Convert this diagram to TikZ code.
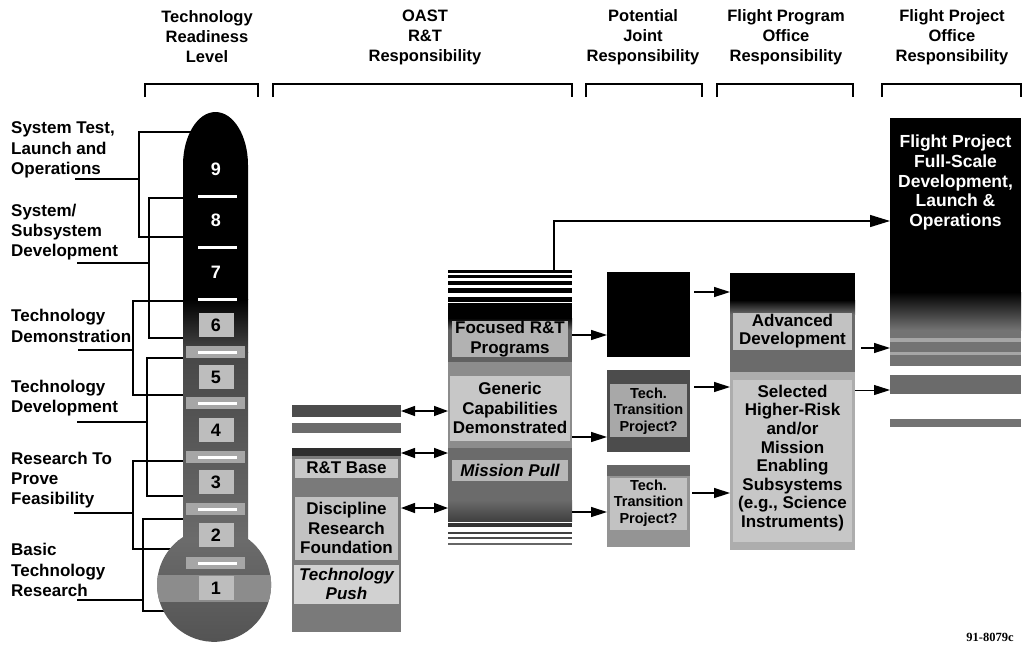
\documentclass[tikz,border=0pt]{standalone}
\usepackage{fontspec}
\setmainfont{Liberation Sans}
\newfontfamily\serifface{Liberation Serif}
\usetikzlibrary{arrows.meta,calc}
\begin{document}
\begin{tikzpicture}[x=1pt,y=-1pt,
  lab/.style={font=\fontsize{17}{20.3}\selectfont\bfseries, align=left, anchor=west, inner sep=0pt},
  hdr/.style={font=\fontsize{16.5}{20}\selectfont\bfseries, align=center, inner sep=0pt},
  btxt/.style={font=\fontsize{17}{19.5}\selectfont\bfseries, align=center, inner sep=0pt},
  ptxt/.style={font=\fontsize{17}{18.6}\selectfont\bfseries, align=center, inner sep=0pt},
  stxt/.style={font=\fontsize{14.5}{16.3}\selectfont\bfseries, align=center, inner sep=0pt},
  wtxt/.style={font=\fontsize{17.5}{19.8}\selectfont\bfseries, align=center, inner sep=0pt, text=white},
  num/.style={font=\fontsize{18}{18}\selectfont\bfseries, inner sep=0pt},
  boxn/.style={draw=none, inner sep=0pt, outer sep=0pt},
  ln/.style={line width=1.4pt},
  arr/.style={line width=1.4pt, -{Triangle[length=16pt,width=10pt]}},
  bigarr/.style={line width=1.4pt, -{Triangle[length=20pt,width=12pt]}},
  darr/.style={line width=1.4pt, {Triangle[length=14pt,width=10pt]}-{Triangle[length=14pt,width=10pt]}},
  tick/.style={white, line width=3pt},
]
\useasboundingbox (0,0) rectangle (1025,654);
\fill[white] (0,0) rectangle (1025,654);

% ---------- headers ----------
\node[hdr] (h1) at (207,37) {Technology\\Readiness\\Level};
\node[hdr] (h2) at (425,37) {OAST\\R\&T\\Responsibility};
\node[hdr] (h3) at (643,37) {Potential\\Joint\\Responsibility};
\node[hdr] (h4) at (786,37) {Flight Program\\Office\\Responsibility};
\node[hdr] (h5) at (952,37) {Flight Project\\Office\\Responsibility};
\draw[line width=1.2pt] (145,97) -- (145,84) -- (258,84) -- (258,97);
\draw[line width=1.2pt] (273,97) -- (273,84) -- (572,84) -- (572,97);
\draw[line width=1.2pt] (586,97) -- (586,84) -- (702,84) -- (702,97);
\draw[line width=1.2pt] (717,97) -- (717,84) -- (853,84) -- (853,97);
\draw[line width=1.2pt] (882,97) -- (882,84) -- (1021,84) -- (1021,97);

% ---------- left labels and brackets ----------
\node[lab] (g1) at (11,150) {System Test,\\Launch and\\Operations};
\node[lab] (g2) at (11,232) {System/\\Subsystem\\Development};
\node[lab] (g3) at (11,326) {Technology\\Demonstration};
\node[lab] (g4) at (11,398) {Technology\\Development};
\node[lab] (g5) at (11,480) {Research To\\Prove\\Feasibility};
\node[lab] (g6) at (11,570) {Basic\\Technology\\Research};

\draw[ln] (75,179) -- (139,179);
\draw[ln] (200,132) -- (139,132) -- (139,237) -- (200,237);
\draw[ln] (77,263) -- (149,263);
\draw[ln] (200,198) -- (149,198) -- (149,338) -- (200,338);
\draw[ln] (78,350) -- (133,350);
\draw[ln] (200,301) -- (133,301) -- (133,395) -- (200,395);
\draw[ln] (77,422) -- (147,422);
\draw[ln] (200,358) -- (147,358) -- (147,496) -- (200,496);
\draw[ln] (74,513) -- (133,513);
\draw[ln] (200,461) -- (133,461) -- (133,549) -- (200,549);
\draw[ln] (77,600) -- (143,600);
\draw[ln] (200,519) -- (143,519) -- (143,611) -- (200,611);

% ---------- thermometer ----------
\begin{scope}
\clip (183,537) -- (183,165) arc[start angle=180,end angle=360,x radius=32.5,y radius=53]
      -- (248,539) arc[start angle=-53.5,end angle=237.1,radius=57] -- cycle;
\fill[black] (140,100) rectangle (290,300);
\shade[top color=black, bottom color=black!72] (140,299) rectangle (290,352);
\shade[top color=black!72, bottom color=black!58] (140,352) rectangle (290,540);
\shade[top color=black!58, bottom color=black!68] (140,540) rectangle (290,650);
\foreach \yy in {352,403,457,509,563}{
  \fill[black!35] (186,\yy-6) rectangle (245,\yy+6);
}
\fill[black!45] (140,575) rectangle (290,602);
\foreach \yy in {325,377,430,482,535,588}{
  \fill[black!26] (199,\yy-12) rectangle (234,\yy+12);
}
\end{scope}
\foreach \yy in {196,247,299}{
  \draw[tick] (198,\yy) -- (237,\yy);
}
\foreach \yy in {352,403,457,509,563}{
  \draw[tick] (198,\yy) -- (237,\yy);
}
\node[num, text=white] (n9) at (216,169) {9};
\node[num, text=white] (n8) at (216,220) {8};
\node[num, text=white] (n7) at (216,272) {7};
\node[num] (n6) at (216,325) {6};
\node[num] (n5) at (216,377) {5};
\node[num] (n4) at (216,430) {4};
\node[num] (n3) at (216,482) {3};
\node[num] (n2) at (216,535) {2};
\node[num] (n1) at (216,588) {1};

% ---------- OAST left column ----------
\node[boxn, fill=black!70, minimum width=109pt, minimum height=12pt] (strip1) at (346.5,411) {};
\node[boxn, fill=black!58, minimum width=109pt, minimum height=10pt] (strip2) at (346.5,428) {};
\node[boxn, fill=black!52, minimum width=109pt, minimum height=184pt] (rtbase) at (346.5,540) {};
\fill[black!82] (rtbase.north west) rectangle ($(rtbase.north east)+(0,8)$);
\fill[black!22] (295,459) rectangle (398,478);
\fill[black!24] (295,497) rectangle (398,560);
\fill[black!18] (294,565) rectangle (399,604);
\node[btxt] (t1) at (346.5,468) {R\&T Base};
\node[btxt] (t2) at (346.5,528) {Discipline\\Research\\Foundation};
\node[btxt] (t3) at (346.5,584) {\itshape Technology\\\itshape Push};

% ---------- OAST middle box ----------
\node[boxn, minimum width=124pt, minimum height=277pt] (oastmid) at (510,408.5) {};
\foreach \a/\b in {270/272.5,275/277.5,281/285,288/293,297/302}{
  \fill[black] (448,\a) rectangle (572,\b);
}
\fill[black] (448,303) rectangle (572,320);
\shade[top color=black, bottom color=black!62] (448,318) rectangle (572,330);
\fill[black!62] (448,330) rectangle (572,362);
\fill[black!45] (448,362) rectangle (572,448);
\fill[black!58] (448,448) rectangle (572,500);
\shade[top color=black!58, bottom color=black!75] (448,500) rectangle (572,521);
\foreach \a/\b/\c in {523/527/80,532/534/75,537/539/70,543/545/60}{
  \fill[black!\c] (448,\a) rectangle (572,\b);
}
\fill[black!30] (452,321) rectangle (568,357);
\fill[black!22] (450,376) rectangle (570,441);
\fill[black!28] (452,460) rectangle (568,481);
\node[btxt] (t4) at (510,339) {Focused R\&T\\Programs};
\node[btxt] (t5) at (510,408) {Generic\\Capabilities\\Demonstrated};
\node[btxt] (t6) at (510,470) {\itshape Mission Pull};

% ---------- potential joint ----------
\node[boxn, fill=black, minimum width=83pt, minimum height=85pt] (potA) at (648.5,314.5) {};
\node[boxn, fill=black!70, minimum width=83pt, minimum height=82pt] (potB) at (648.5,411) {};
\node[boxn, fill=black!42, minimum width=83pt, minimum height=82pt] (potC) at (648.5,506) {};
\fill[black!34] (610,384) rectangle (687,437);
\fill[black!60] (607,465) rectangle (690,476);
\fill[black!24] (610,478) rectangle (687,530);
\node[stxt] (t7) at (648.5,411) {Tech.\\Transition\\Project?};
\node[stxt] (t8) at (648.5,503) {Tech.\\Transition\\Project?};

% ---------- flight program office ----------
\node[boxn, fill=black!32, minimum width=125pt, minimum height=277pt] (fprog) at (792.5,411.5) {};
\fill[black] (730,273) rectangle (855,302);
\shade[top color=black, bottom color=black!58] (730,300) rectangle (855,314);
\fill[black!58] (730,314) rectangle (855,372);
\fill[black!24] (733,313) rectangle (852,350);
\fill[black!22] (733,380) rectangle (852,542);
\node[ptxt] (t9) at (792.5,331) {Advanced\\Development};
\node[ptxt] (t10) at (792.5,458) {Selected\\Higher-Risk\\and/or\\Mission\\Enabling\\Subsystems\\(e.g., Science\\Instruments)};

% ---------- flight project office ----------
\node[boxn, fill=black, minimum width=131pt, minimum height=248pt] (fproj) at (955.5,242) {};
\shade[top color=black, bottom color=black!55] (890,292) rectangle (1021,330);
\fill[black!55] (890,330) rectangle (1021,366);
\fill[black!35] (890,338) rectangle (1021,342);
\fill[black!35] (890,352) rectangle (1021,355);
\node[boxn, fill=black!58, minimum width=131pt, minimum height=19pt] (fprojS1) at (955.5,384.5) {};
\node[boxn, fill=black!55, minimum width=131pt, minimum height=8pt] (fprojS2) at (955.5,423) {};
\node[wtxt] (t11) at (955.5,182.5) {Flight Project\\Full-Scale\\Development,\\Launch \&\\Operations};

% ---------- connectors ----------
\coordinate (c1) at (554,221);
\draw[bigarr] (oastmid.north -| c1) |- (fproj.west |- c1);

\coordinate (yd1) at (0,411);
\coordinate (yd2) at (0,453);
\coordinate (yd3) at (0,508);
\draw[darr] (strip1.east |- yd1) -- (oastmid.west |- yd1);
\draw[darr] (rtbase.east |- yd2) -- (oastmid.west |- yd2);
\draw[darr] (rtbase.east |- yd3) -- (oastmid.west |- yd3);

\coordinate (ym1) at (0,335);
\coordinate (ym2) at (0,437);
\coordinate (ym3) at (0,512);
\draw[arr] (oastmid.east |- ym1) -- (potA.west |- ym1);
\draw[arr] (oastmid.east |- ym2) -- (potB.west |- ym2);
\draw[arr] (oastmid.east |- ym3) -- (potC.west |- ym3);

\coordinate (yp1) at (0,292);
\coordinate (yp2) at (0,387);
\coordinate (yp3) at (0,493);
\draw[arr, shorten <=4pt] (potA.east |- yp1) -- (fprog.west |- yp1);
\draw[arr, shorten <=4pt] (potB.east |- yp2) -- (fprog.west |- yp2);
\draw[arr, shorten <=2pt] (potC.east |- yp3) -- (fprog.west |- yp3);

\coordinate (yf1) at (0,348);
\coordinate (yf2) at (0,390);
\draw[arr, shorten <=6pt] (fprog.east |- yf1) -- (fproj.west |- yf1);
\draw[arr, line width=1pt] (fprog.east |- yf2) -- (fprojS1.west |- yf2);

\node[font=\serifface\bfseries\fontsize{12.5}{14}\selectfont, inner sep=0pt] (code) at (990,637) {91-8079c};
\end{tikzpicture}
\end{document}
